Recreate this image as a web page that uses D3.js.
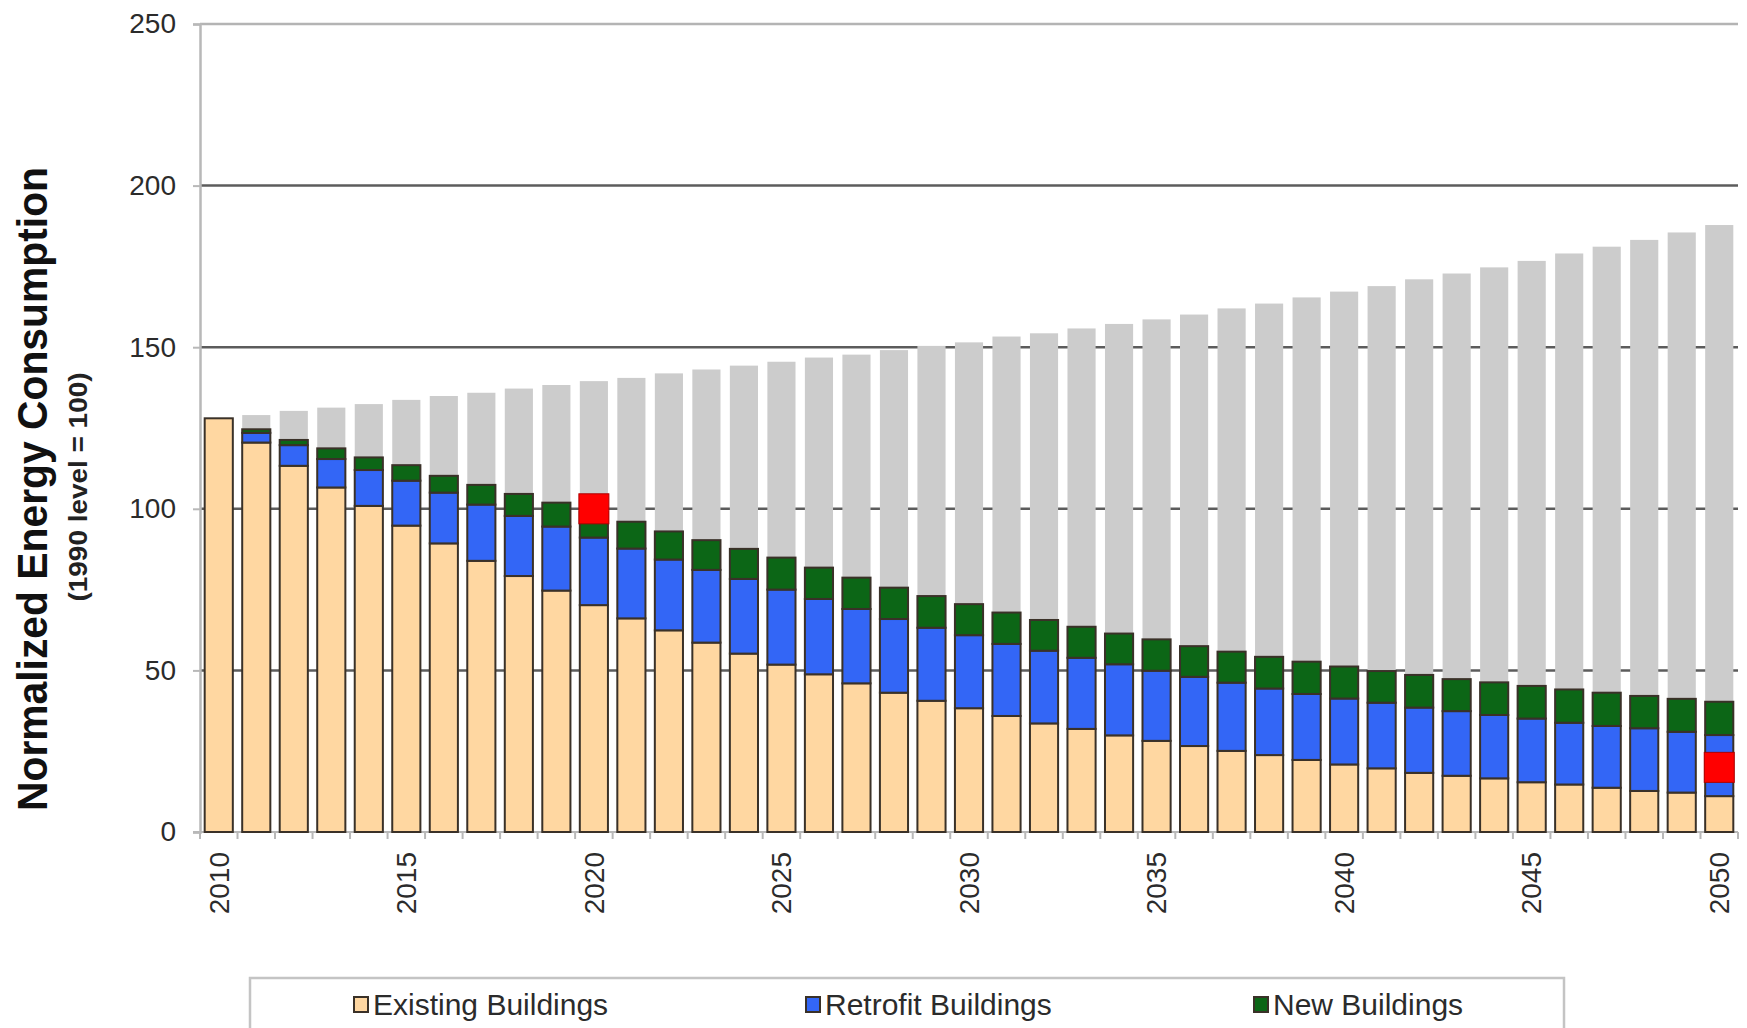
<!DOCTYPE html>
<html>
<head>
<meta charset="utf-8">
<script src="https://cdn.jsdelivr.net/npm/d3@7"></script>
<style>
  html, body { margin: 0; padding: 0; background: #fff; }
  svg { display: block; font-family: "Liberation Sans", Arial, sans-serif; }
</style>
</head>
<body>
<svg id="chart" width="1747" height="1028"></svg>
<script>
// Years on the category axis
const years = d3.range(2010, 2051);

// Business-as-usual consumption (grey bars behind the stacks)
const baseline = [128.0, 129.0, 130.3, 131.3, 132.4, 133.7, 134.9, 135.9, 137.2, 138.3,
  139.5, 140.5, 141.9, 143.1, 144.3, 145.5, 146.8, 147.7, 149.1, 150.4,
  151.5, 153.3, 154.3, 155.8, 157.2, 158.6, 160.1, 162.0, 163.5, 165.4,
  167.2, 168.9, 171.0, 172.8, 174.7, 176.7, 179.0, 181.1, 183.2, 185.5, 187.8];

// Stacked components of the scenario
const existing = [128.0, 120.5, 113.3, 106.6, 100.9, 94.8, 89.3, 83.9, 79.2, 74.7,
  70.2, 66.1, 62.4, 58.6, 55.2, 51.8, 48.8, 46.0, 43.1, 40.6,
  38.3, 35.9, 33.6, 31.9, 29.9, 28.2, 26.6, 25.1, 23.8, 22.3,
  20.9, 19.7, 18.3, 17.4, 16.6, 15.4, 14.7, 13.7, 12.7, 12.2, 11.1];

const retrofit = [0.0, 3.0, 6.4, 8.8, 11.1, 13.9, 15.7, 17.4, 18.6, 19.8,
  20.9, 21.6, 21.9, 22.5, 23.1, 23.2, 23.3, 23.0, 22.8, 22.6,
  22.6, 22.3, 22.5, 22.0, 22.0, 21.7, 21.4, 21.1, 20.6, 20.4,
  20.4, 20.3, 20.2, 20.0, 19.6, 19.7, 19.1, 19.1, 19.4, 18.8, 18.9];

const newBuildings = [0.0, 1.1, 1.6, 3.3, 3.9, 4.8, 5.2, 6.1, 6.8, 7.4,
  7.9, 8.3, 8.7, 9.2, 9.3, 9.9, 9.7, 9.7, 9.7, 9.8,
  9.6, 9.7, 9.5, 9.6, 9.5, 9.7, 9.5, 9.6, 9.8, 10.0,
  9.9, 9.8, 10.1, 9.9, 10.1, 10.1, 10.3, 10.3, 10.0, 10.2, 10.3];

// Reduction targets (red markers)
const targetYears = [2020, 2050];
const targetValues = [100, 20];

// Axis ticks
const yTicks = [0, 50, 100, 150, 200, 250];
const xTickLabels = [2010, 2015, 2020, 2025, 2030, 2035, 2040, 2045, 2050];

const seriesKeys = ["Existing Buildings", "Retrofit Buildings", "New Buildings"];
const seriesColors = ["#ffd7a1", "#3366f6", "#0c6616"];

const svg = d3.select("#chart");
const plotLeft = 200, plotRight = 1738, plotTop = 24, plotBottom = 832;

const x = d3.scaleBand().domain(years).range([plotLeft, plotRight])
  .paddingInner(0.25).paddingOuter(0.125);
const y = d3.scaleLinear().domain([0, 250]).range([plotBottom, plotTop]);
const gap = x.step() - x.bandwidth();

// Horizontal grid lines
svg.append("g").selectAll("line")
  .data(yTicks.filter(d => d > 0))
  .join("line")
  .attr("x1", plotLeft).attr("x2", plotRight)
  .attr("y1", d => y(d)).attr("y2", d => y(d))
  .attr("stroke", d => d === 250 ? "#b4b4b4" : "#5c5c5c")
  .attr("stroke-width", 2.5);

// Y axis
const yAxis = svg.append("g")
  .attr("transform", `translate(${plotLeft},0)`)
  .call(d3.axisLeft(y).tickValues(yTicks).tickSize(7).tickPadding(17));
yAxis.select(".domain").attr("stroke", "#b8b8b8").attr("stroke-width", 2.5);
yAxis.selectAll(".tick line").attr("stroke", "#b8b8b8").attr("stroke-width", 2);
yAxis.selectAll(".tick text")
  .attr("font-size", 28).attr("fill", "#2b2b2b")
  .attr("font-family", "'Liberation Sans', Arial, sans-serif");

// X axis baseline and boundary ticks
svg.append("line")
  .attr("x1", plotLeft - 7).attr("x2", plotRight)
  .attr("y1", plotBottom).attr("y2", plotBottom)
  .attr("stroke", "#b8b8b8").attr("stroke-width", 2);
svg.append("g").selectAll("line")
  .data(years.concat([null]))
  .join("line")
  .attr("x1", (d, i) => i < years.length ? x(d) - gap / 2 : plotRight)
  .attr("x2", (d, i) => i < years.length ? x(d) - gap / 2 : plotRight)
  .attr("y1", plotBottom).attr("y2", plotBottom + 7)
  .attr("stroke", "#b8b8b8").attr("stroke-width", 2);

// X tick labels, rotated
svg.append("g").selectAll("text")
  .data(xTickLabels)
  .join("text")
  .attr("transform", d => `translate(${x(d) + x.bandwidth() / 2},${plotBottom + 20}) rotate(-90)`)
  .attr("text-anchor", "end")
  .attr("dy", "0.35em")
  .attr("font-size", 28)
  .attr("fill", "#2b2b2b")
  .text(d => d);

// Grey baseline bars
svg.append("g").selectAll("rect")
  .data(years)
  .join("rect")
  .attr("x", d => x(d))
  .attr("width", x.bandwidth())
  .attr("y", (d, i) => y(baseline[i]))
  .attr("height", (d, i) => y(0) - y(baseline[i]))
  .attr("fill", "#cccccc");

// Stacked scenario bars
const rows = years.map((yr, i) => ({
  year: yr,
  "Existing Buildings": existing[i],
  "Retrofit Buildings": retrofit[i],
  "New Buildings": newBuildings[i]
}));
const stacked = d3.stack().keys(seriesKeys)(rows);

svg.append("g").selectAll("g")
  .data(stacked)
  .join("g")
  .attr("fill", (d, i) => seriesColors[i])
  .selectAll("rect")
  .data(d => d.filter(s => s[1] - s[0] > 0))
  .join("rect")
  .attr("x", d => x(d.data.year))
  .attr("width", x.bandwidth())
  .attr("y", d => y(d[1]))
  .attr("height", d => y(d[0]) - y(d[1]))
  .attr("stroke", "#3a3128")
  .attr("stroke-width", 2);

// Target markers
const markerSize = 30;
svg.append("g").selectAll("rect")
  .data(targetYears)
  .join("rect")
  .attr("x", d => x(d) + x.bandwidth() / 2 - markerSize / 2)
  .attr("y", (d, i) => y(targetValues[i]) - markerSize / 2)
  .attr("width", markerSize).attr("height", markerSize)
  .attr("fill", "#ff0000")
  .attr("stroke", "#b00000").attr("stroke-width", 1);

// Y axis title
svg.append("text")
  .attr("transform", "translate(47,489) rotate(-90)")
  .attr("text-anchor", "middle")
  .attr("font-size", 42).attr("font-weight", "bold").attr("fill", "#111")
  .attr("textLength", 644).attr("lengthAdjust", "spacingAndGlyphs")
  .text("Normalized Energy Consumption");
svg.append("text")
  .attr("transform", "translate(87,487) rotate(-90)")
  .attr("text-anchor", "middle")
  .attr("font-size", 25).attr("font-weight", "bold").attr("fill", "#222")
  .attr("textLength", 229).attr("lengthAdjust", "spacingAndGlyphs")
  .text("(1990 level = 100)");

// Legend
const legend = svg.append("g");
legend.append("rect")
  .attr("x", 250).attr("y", 978).attr("width", 1314).attr("height", 70)
  .attr("fill", "#fff").attr("stroke", "#c4c4c4").attr("stroke-width", 2.5);
const legendX = [354, 806, 1254];
const items = legend.selectAll("g.item")
  .data(seriesKeys)
  .join("g").attr("class", "item")
  .attr("transform", (d, i) => `translate(${legendX[i]},0)`);
items.append("rect")
  .attr("x", 0).attr("y", 997).attr("width", 14).attr("height", 15)
  .attr("fill", (d, i) => seriesColors[i])
  .attr("stroke", "#3a3128").attr("stroke-width", 2);
items.append("text")
  .attr("x", 19).attr("y", 1015)
  .attr("font-size", 30).attr("fill", "#2b2b2b")
  .text(d => d);
</script>
</body>
</html>
